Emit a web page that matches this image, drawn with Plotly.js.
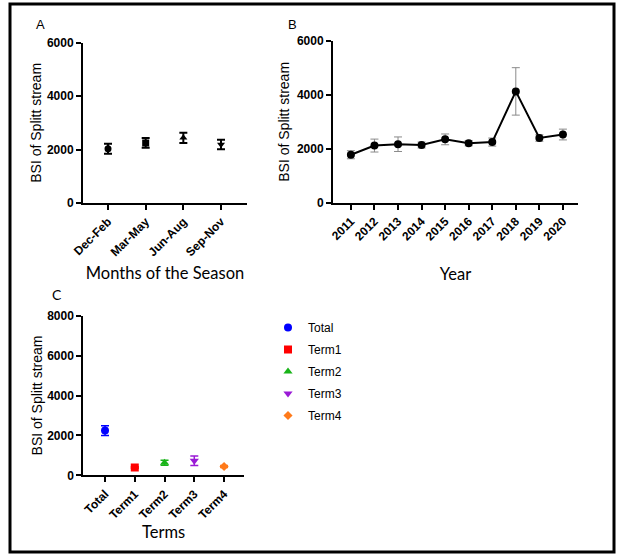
<!DOCTYPE html>
<html>
<head>
<meta charset="utf-8">
<script src="https://cdn.plot.ly/plotly-3.0.1.min.js"></script>
<style>html,body{margin:0;padding:0;background:#fff}#chart{width:622px;height:556px}</style>
</head>
<body>
<div id="chart"></div>
<script>
// Panel A: season
const seasons = ["Dec-Feb", "Mar-May", "Jun-Aug", "Sep-Nov"];
const seasonBSI = [2030, 2250, 2440, 2190];
const seasonErr = [190, 180, 190, 180];
const seasonSymbols = ["circle", "square", "triangle-up", "triangle-down"];

// Panel B: year
const years = [2011, 2012, 2013, 2014, 2015, 2016, 2017, 2018, 2019, 2020];
const yearBSI = [1780, 2120, 2170, 2140, 2350, 2210, 2250, 4130, 2400, 2530];
const yearErr = [150, 240, 270, 110, 200, 100, 150, 880, 120, 200];

// Panel C: terms
const terms = ["Total", "Term1", "Term2", "Term3", "Term4"];
const termBSI = [2240, 390, 630, 730, 440];
const termErr = [240, 40, 130, 240, 50];
const termColors = ["#0000ff", "#ff0000", "#19b419", "#9a1ad6", "#ff7a1a"];
const termSymbols = ["circle", "square", "triangle-up", "triangle-down", "diamond"];

const W = 622, H = 556;
const fx = p => p / W;
const fy = p => 1 - p / H;

const traces = [];
traces.push({
  type: "scatter", mode: "markers", x: seasons, y: seasonBSI,
  xaxis: "x", yaxis: "y", showlegend: false,
  marker: {color: "#000", size: 7, symbol: seasonSymbols},
  error_y: {type: "data", array: seasonErr, visible: true, color: "#000", thickness: 2, width: 4}
});
traces.push({
  type: "scatter", mode: "lines+markers", x: years, y: yearBSI,
  xaxis: "x2", yaxis: "y2", showlegend: false,
  line: {color: "#000", width: 2},
  marker: {color: "#000", size: 8, symbol: "circle"},
  error_y: {type: "data", array: yearErr, visible: true, color: "#8a8a8a", thickness: 1, width: 4}
});
terms.forEach((t, i) => {
  traces.push({
    type: "scatter", mode: "markers", x: [t], y: [termBSI[i]], name: t,
    xaxis: "x3", yaxis: "y3", legendgroup: t,
    marker: {color: termColors[i], size: i === 4 ? 7 : 8, symbol: termSymbols[i]},
    error_y: {type: "data", array: [termErr[i]], visible: true, color: termColors[i], thickness: 1.5, width: 4}
  });
});

const tickFont = {family: "Liberation Sans, Arial, sans-serif", size: 12, color: "#000", weight: "bold"};
const yTitleFont = {family: "Liberation Sans, Arial, sans-serif", size: 14, color: "#000"};
const xTitleFont = {family: "Lato, sans-serif", size: 16.5, color: "#000"};

function yax(domain, range, dtick, title, anchor, standoff) {
  return {
    domain: domain, range: range, dtick: dtick, tick0: 0, anchor: anchor,
    showgrid: false, zeroline: false, showline: true, linecolor: "#000", linewidth: 2,
    ticks: "outside", ticklen: 5, tickwidth: 2, tickcolor: "#000",
    tickfont: tickFont, fixedrange: true,
    title: {text: title, font: yTitleFont, standoff: standoff}
  };
}
function xax(domain, range, title, standoff, anchor, extra) {
  return Object.assign({
    domain: domain, range: range, anchor: anchor,
    showgrid: false, zeroline: false, showline: true, linecolor: "#000", linewidth: 2,
    ticks: "outside", ticklen: 5, tickwidth: 2, tickcolor: "#000",
    tickfont: tickFont, tickangle: -45, fixedrange: true,
    title: {text: title, font: xTitleFont, standoff: standoff}
  }, extra || {});
}

const letterFont = {family: "Liberation Sans, Arial, sans-serif", size: 13, color: "#000"};

const layout = {
  width: W, height: H,
  margin: {l: 0, r: 0, t: 0, b: 0},
  paper_bgcolor: "#fff", plot_bgcolor: "#fff",
  font: {family: "Liberation Sans, Arial, sans-serif", color: "#000"},
  xaxis: xax([fx(83), fx(247)], [-0.664, 3.69], "Months of the Season", 9, "y",
    {type: "category", categoryorder: "array", categoryarray: seasons}),
  yaxis: yax([fy(203), fy(42.7)], [0, 6000], 2000, "BSI of Splitt stream", "x", 2),
  xaxis2: xax([fx(333), fx(578)], [2010.24, 2020.64], "Year", 26, "y2",
    {tickvals: years, ticktext: years.map(String)}),
  yaxis2: yax([fy(202.7), fy(41)], [0, 6000], 2000, "BSI of Splitt stream", "x2", 4),
  xaxis3: xax([fx(83.3), fx(244)], [-0.73, 4.67], "Terms", 6, "y3",
    {type: "category", categoryorder: "array", categoryarray: terms}),
  yaxis3: yax([fy(475.3), fy(315.7)], [0, 8000], 2000, "BSI of Splitt stream", "x3", 1),
  showlegend: true,
  legend: {
    x: fx(268), y: fy(313), xanchor: "left", yanchor: "top",
    font: {family: "Liberation Sans, Arial, sans-serif", size: 12, color: "#000"},
    traceorder: "grouped", tracegroupgap: 3, bgcolor: "rgba(0,0,0,0)"
  },
  annotations: [
    {text: "A", x: fx(40), y: fy(25), xref: "paper", yref: "paper", showarrow: false,
     xanchor: "center", yanchor: "middle", font: letterFont},
    {text: "B", x: fx(292), y: fy(25), xref: "paper", yref: "paper", showarrow: false,
     xanchor: "center", yanchor: "middle", font: letterFont},
    {text: "C", x: fx(57), y: fy(294), xref: "paper", yref: "paper", showarrow: false,
     xanchor: "center", yanchor: "middle", font: {family: "Lato, sans-serif", size: 14, color: "#000"}}
  ],
  shapes: [
    {type: "rect", xref: "paper", yref: "paper", x0: fx(10), x1: fx(614), y0: fy(552), y1: fy(4),
     line: {color: "#000", width: 3}, fillcolor: "rgba(0,0,0,0)"}
  ]
};

Plotly.newPlot("chart", traces, layout, {staticPlot: true, displayModeBar: false});
</script>
</body>
</html>
